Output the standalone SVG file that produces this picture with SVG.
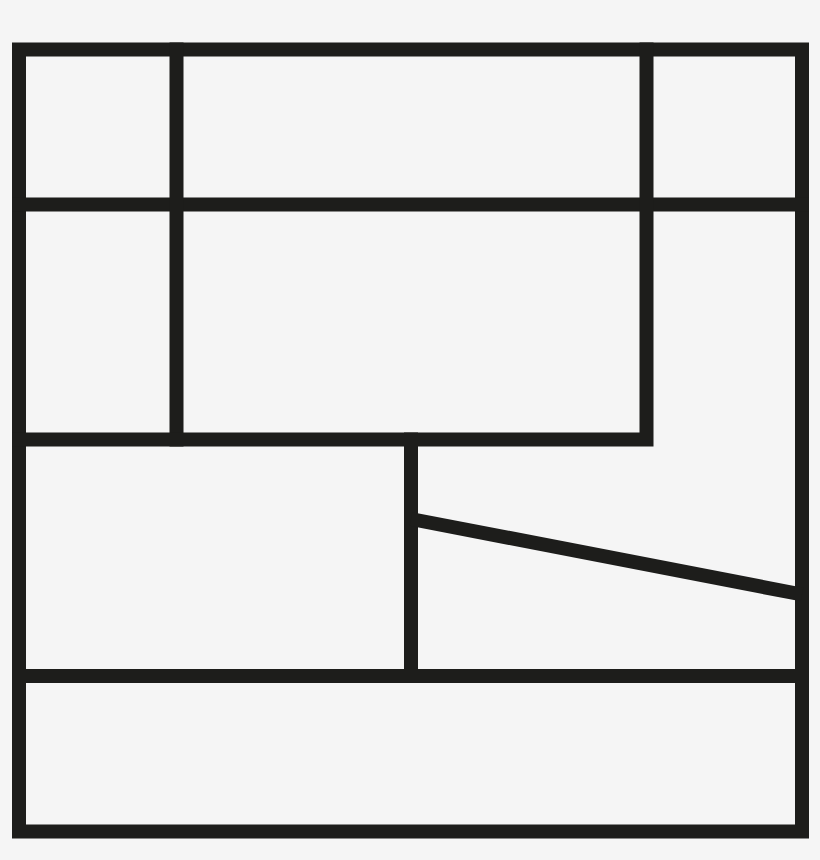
<svg xmlns="http://www.w3.org/2000/svg" width="820" height="860" viewBox="0 0 820 860">
<style>
.w{fill:none;stroke:#1d1d1b;stroke-width:14;stroke-linecap:square;stroke-linejoin:miter}
</style>
<rect width="820" height="860" fill="#f5f5f5"/>
<g id="plan">
<rect class="w" x="19" y="49.5" width="783" height="782"/>
<path class="w" d="M19 204.5H802"/>
<path class="w" d="M176.5 49.5V439.5"/>
<path class="w" d="M646.5 49.5V439.5H19"/>
<path class="w" d="M411 439.5V676"/>
<path class="w" d="M19 676H802"/>
<path class="w" style="stroke-linecap:butt" d="M411 519L802 594.5"/>
</g>
</svg>
